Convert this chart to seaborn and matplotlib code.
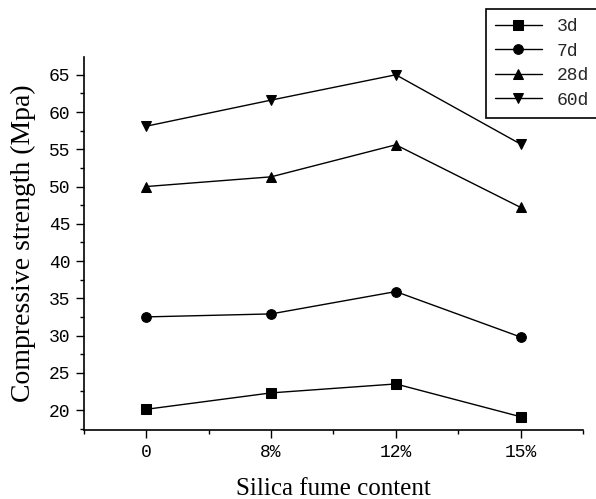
import matplotlib
matplotlib.use("Agg")
import matplotlib.pyplot as plt
import seaborn as sns
import pandas as pd
from matplotlib.ticker import MultipleLocator

categories = ["0", "8%", "12%", "15%"]
series_names = ["3d", "7d", "28d", "60d"]
s3d = [20.1, 22.3, 23.5, 19.1]
s7d = [32.5, 32.9, 35.9, 29.8]
s28d = [50.0, 51.3, 55.6, 47.2]
s60d = [58.1, 61.6, 65.0, 55.7]
yticks = [20, 25, 30, 35, 40, 45, 50, 55, 60, 65]

rows = []
for name, vals in zip(series_names, [s3d, s7d, s28d, s60d]):
    for i, (c, v) in enumerate(zip(categories, vals)):
        rows.append({"pos": i, "content": c, "age": name, "val": v})
df = pd.DataFrame(rows)

sns.set_theme(style="ticks")
plt.rcParams["font.family"] = ["Liberation Serif", "DejaVu Serif"]

fig = plt.figure(figsize=(5.96, 4.99), dpi=100)
ax = fig.add_axes([0.141, 0.138, 0.837, 0.748])

sns.lineplot(data=df, x="pos", y="val", hue="age", style="age",
             markers=["s", "o", "^", "v"], dashes=False,
             palette=["black"] * 4, linewidth=1.0, markersize=7,
             markeredgecolor="black", ax=ax, legend=True)

ax.set_xlim(-0.5, 3.5)
ax.set_ylim(17.3, 67.4)
ax.set_xticks(range(len(categories)))
ax.set_xticklabels(categories)
ax.set_yticks(yticks)
ax.xaxis.set_minor_locator(MultipleLocator(0.5))
ax.yaxis.set_minor_locator(MultipleLocator(2.5))
ax.tick_params(which="major", direction="out", length=6, width=1, color="black",
               labelsize=13, labelcolor="black", pad=4)
ax.tick_params(which="minor", direction="out", length=3, width=1, color="black")
for lab in ax.get_xticklabels() + ax.get_yticklabels():
    lab.set_fontfamily(["Liberation Mono", "DejaVu Sans Mono"])

ax.spines["top"].set_visible(False)
ax.spines["right"].set_visible(False)
for sp in ["left", "bottom"]:
    ax.spines[sp].set_color("black")
    ax.spines[sp].set_linewidth(1.2)

ax.set_xlabel("Silica fume content", fontsize=18, color="black", labelpad=12)
ax.set_ylabel("Compressive strength (Mpa)", fontsize=20, color="black", labelpad=9)

handles, labels = ax.get_legend_handles_labels()
leg = ax.legend(handles, labels, loc="upper left", bbox_to_anchor=(0.815, 0.982),
                bbox_transform=fig.transFigure, frameon=True, fancybox=False,
                edgecolor="black", framealpha=1, handlelength=2.6,
                borderpad=0.5, borderaxespad=0, labelspacing=0.42,
                handletextpad=0.85,
                prop={"family": "Liberation Mono", "size": 13})
leg.get_frame().set_linewidth(1.2)

fig.savefig("out.png", dpi=100)
